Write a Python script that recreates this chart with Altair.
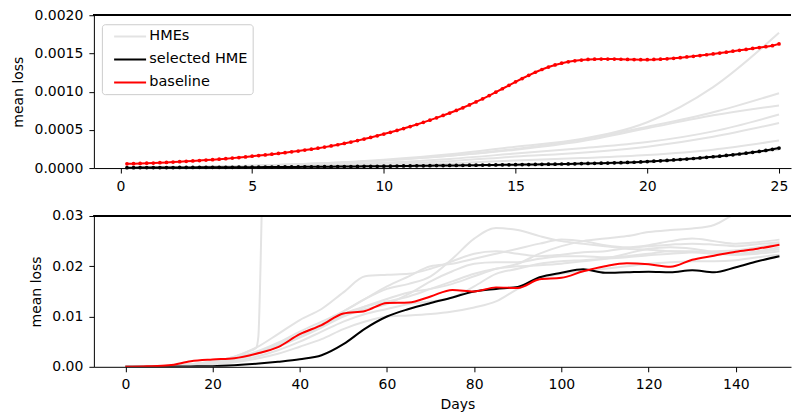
import altair as alt
import pandas as pd

FONT = "DejaVu Sans"
FS = 14
FS_LEG = 14.5
GREY = "#e3e3e3"

# ---------------- top panel data (values in units of 1e-4) ----------------
top_days = [round(0.25 * i, 2) for i in range(1, 101)]

top_baseline = [
    0.55, 0.57, 0.60, 0.63, 0.66, 0.70, 0.74, 0.78, 0.83, 0.88,
    0.93, 0.98, 1.04, 1.10, 1.16, 1.23, 1.30, 1.38, 1.46, 1.55,
    1.63, 1.72, 1.81, 1.91, 2.01, 2.12, 2.23, 2.35, 2.47, 2.60,
    2.74, 2.89, 3.05, 3.22, 3.40, 3.59, 3.79, 4.00, 4.22, 4.45,
    4.68, 4.92, 5.17, 5.43, 5.70, 5.98, 6.27, 6.57, 6.88, 7.20,
    7.54, 7.89, 8.26, 8.65, 9.06, 9.49, 9.93, 10.38, 10.83, 11.28,
    11.72, 12.14, 12.54, 12.90, 13.22, 13.49, 13.72, 13.90, 14.04, 14.14,
    14.21, 14.25, 14.27, 14.27, 14.26, 14.24, 14.22, 14.20, 14.19, 14.19,
    14.21, 14.25, 14.30, 14.37, 14.45, 14.54, 14.63, 14.73, 14.83, 14.93,
    15.05, 15.17, 15.29, 15.41, 15.53, 15.65, 15.77, 15.89, 16.01, 16.25,
]

top_selected = [
    0.05, 0.05, 0.06, 0.06, 0.06, 0.07, 0.07, 0.07, 0.08, 0.08,
    0.08, 0.09, 0.09, 0.09, 0.10, 0.10, 0.10, 0.11, 0.11, 0.12,
    0.12, 0.13, 0.13, 0.14, 0.14, 0.15, 0.15, 0.16, 0.16, 0.17,
    0.18, 0.18, 0.19, 0.20, 0.20, 0.21, 0.22, 0.23, 0.23, 0.24,
    0.25, 0.26, 0.27, 0.28, 0.29, 0.30, 0.31, 0.32, 0.33, 0.34,
    0.35, 0.36, 0.37, 0.38, 0.39, 0.40, 0.41, 0.42, 0.43, 0.44,
    0.45, 0.46, 0.47, 0.49, 0.50, 0.51, 0.53, 0.54, 0.56, 0.58,
    0.60, 0.62, 0.64, 0.66, 0.68, 0.70, 0.73, 0.76, 0.80, 0.85,
    0.90, 0.95, 1.00, 1.06, 1.12, 1.18, 1.25, 1.32, 1.40, 1.48,
    1.56, 1.65, 1.74, 1.84, 1.95, 2.06, 2.18, 2.31, 2.46, 2.62,
]

top_hme_days = [0.25, 2.5, 5, 7.5, 10, 12.5, 15, 17.5, 20, 22.5, 25]
top_hmes = [
    [0.0, 0.10, 0.30, 0.60, 1.10, 1.80, 2.80, 3.80, 6.00, 10.60, 17.70],
    [0.0, 0.10, 0.30, 0.60, 1.00, 1.60, 2.50, 3.70, 5.40, 7.30, 9.80],
    [0.0, 0.10, 0.30, 0.60, 1.00, 1.60, 2.40, 3.50, 5.20, 6.90, 8.20],
    [0.0, 0.10, 0.20, 0.40, 0.70, 1.20, 1.90, 2.60, 3.40, 4.80, 7.00],
    [0.0, 0.05, 0.15, 0.30, 0.55, 0.90, 1.50, 2.00, 2.80, 4.10, 5.90],
    [0.0, 0.05, 0.10, 0.20, 0.35, 0.60, 1.00, 1.30, 1.70, 2.40, 3.60],
    [0.0, 0.03, 0.06, 0.10, 0.15, 0.25, 0.35, 0.50, 0.80, 1.40, 2.40],
]

# ---------------- bottom panel data (values in units of 1e-3) ----------------
bot_days = [0, 5, 10, 15, 20, 25, 30, 35, 40, 45, 50, 55, 60, 65, 70, 75,
            80, 85, 90, 95, 100, 105, 110, 115, 120, 125, 130, 135, 140, 145, 150]

bot_baseline = [0.0, 0.1, 0.3, 1.1, 1.45, 1.7, 2.6, 3.9, 6.5, 8.3, 10.6, 11.1, 12.7, 12.8,
                14.0, 15.3, 15.0, 15.8, 15.7, 17.4, 17.7, 19.0, 20.0, 20.6, 20.4,
                19.9, 21.3, 22.1, 22.9, 23.5, 24.3]
bot_selected = [0.0, 0.02, 0.05, 0.08, 0.12, 0.3, 0.6, 1.0, 1.5, 2.3, 4.5, 7.6, 10.0, 11.5,
                12.7, 13.8, 15.0, 15.5, 15.9, 17.8, 18.7, 19.4, 18.7, 18.8, 18.9,
                18.8, 19.2, 18.8, 19.8, 21.0, 22.0]

bot_hmes = [
    [0, 0.05, 0.2, 0.5, 1.0, 2.0, 3.8, 6.5, 9.3, 11.5, 14.8, 18.0, 18.3, 18.5, 19.5, 21.0,
     22.5, 23.0, 22.5, 22.0, 22.3, 22.8, 23.0, 23.6, 24.0, 24.3, 24.5, 24.3, 24.0, 24.4, 24.8],
    [0, 0.05, 0.2, 0.45, 0.9, 1.6, 2.8, 4.5, 6.5, 8.5, 11.0, 13.5, 15.5, 16.5, 18.0, 21.5,
     25.5, 27.6, 27.2, 26.0, 25.0, 24.5, 24.0, 23.5, 23.3, 23.0, 22.8, 22.5, 22.3, 22.5, 23.0],
    [0, 0.03, 0.15, 0.4, 0.8, 1.4, 2.5, 4.0, 6.0, 8.0, 10.2, 12.0, 13.5, 14.8, 15.5, 16.5,
     18.0, 19.5, 20.5, 22.5, 24.0, 25.0, 25.5, 26.0, 26.8, 27.2, 27.5, 28.2, 30.5, 32.0, 33.0],
    [0, 0.05, 0.2, 0.5, 1.0, 1.8, 3.0, 4.8, 7.0, 9.0, 11.0, 13.5, 16.0, 18.0, 20.0, 20.5,
     21.5, 22.5, 23.5, 24.5, 25.3, 25.0, 24.2, 23.8, 24.2, 25.0, 25.5, 25.0, 24.5, 24.8, 25.3],
    [0, 0.05, 0.15, 0.4, 0.8, 1.5, 2.6, 4.0, 5.8, 7.8, 10.0, 11.5, 12.5, 14.5, 17.0, 19.0,
     20.5, 20.8, 20.8, 21.5, 22.0, 22.0, 21.8, 22.0, 22.5, 23.0, 23.0, 22.8, 22.5, 23.0, 23.8],
    [0, 0.03, 0.1, 0.3, 0.6, 1.1, 2.0, 3.3, 5.0, 7.0, 9.0, 10.5, 11.5, 12.5, 13.0, 13.8,
     16.0, 18.5, 19.5, 20.5, 21.0, 21.2, 21.5, 21.8, 22.2, 22.5, 22.8, 23.0, 23.2, 23.8, 24.5],
    [0, 0.02, 0.1, 0.25, 0.5, 0.9, 1.6, 2.6, 4.0, 5.5, 7.5, 9.0, 10.0, 10.2, 10.5, 11.0,
     11.8, 13.0, 15.5, 17.5, 18.5, 19.0, 19.5, 20.0, 20.5, 20.8, 21.0, 21.0, 21.2, 21.8, 22.3],
    [0, 0.04, 0.15, 0.4, 0.8, 1.5, 2.6, 4.2, 6.2, 8.2, 10.5, 12.0, 13.0, 14.0, 15.5, 17.0,
     18.5, 19.5, 20.0, 20.2, 20.5, 21.0, 21.5, 22.5, 23.5, 23.8, 23.5, 22.8, 22.3, 22.8, 23.4],
]
spike_days = [0, 5, 10, 15, 20, 25, 28, 30, 30.5, 31, 31.5]
spike_vals = [0, 0.05, 0.2, 0.5, 1.0, 2.0, 3.0, 3.8, 6.0, 20.0, 40.0]

SERIES = ["HMEs", "selected HME", "baseline"]
COLORS = [GREY, "black", "red"]

# ---------------- build tables ----------------
rows = []
for k, line in enumerate(top_hmes):
    for d, v in zip(top_hme_days, line):
        rows.append({"day": d, "loss": v * 1e-4, "series": "HMEs", "id": f"h{k}"})
top_grey = pd.DataFrame(rows)
top_sel = pd.DataFrame({"day": top_days, "loss": [v * 1e-4 for v in top_selected], "series": "selected HME"})
top_base = pd.DataFrame({"day": top_days, "loss": [v * 1e-4 for v in top_baseline], "series": "baseline"})

rows = []
for k, line in enumerate(bot_hmes):
    for d, v in zip(bot_days, line):
        rows.append({"day": d, "loss": v * 1e-3, "series": "HMEs", "id": f"h{k}"})
for d, v in zip(spike_days, spike_vals):
    rows.append({"day": d, "loss": v * 1e-3, "series": "HMEs", "id": "spike"})
bot_grey = pd.DataFrame(rows)
bot_sel = pd.DataFrame({"day": bot_days, "loss": [v * 1e-3 for v in bot_selected], "series": "selected HME"})
bot_base = pd.DataFrame({"day": bot_days, "loss": [v * 1e-3 for v in bot_baseline], "series": "baseline"})

W = 698
H_TOP = 153
H_BOT = 151

legend = alt.Legend(
    orient="none", legendX=8, legendY=9, title=None,
    symbolType="M-3.2,0H3.2", symbolSize=100, symbolStrokeWidth=2, symbolOffset=16,
    labelFontSize=FS_LEG, labelFont=FONT, labelColor="black", labelOffset=12,
    fillColor="white", strokeColor="#cccccc", cornerRadius=3, padding=5,
    rowPadding=8,
)


def panel(grey, sel, base, xdom, xticks, ydom, yticks, yfmt, xtitle, h, show_legend, dots):
    color_legend = legend if show_legend else None
    color = alt.Color("series:N", scale=alt.Scale(domain=SERIES, range=COLORS), legend=color_legend)
    xenc = alt.X("day:Q", scale=alt.Scale(domain=xdom, nice=False, zero=False),
                 axis=alt.Axis(values=xticks, title=xtitle, format="d", titleX=364 if xtitle else alt.Undefined))
    yenc = alt.Y("loss:Q", scale=alt.Scale(domain=ydom, nice=False),
                 axis=alt.Axis(values=yticks, format=yfmt, title="mean loss"))
    interp = "linear" if dots else "monotone"
    g = alt.Chart(grey).mark_line(strokeWidth=2, clip=True, interpolate="monotone").encode(
        x=xenc, y=yenc, color=color, detail="id:N")
    s = alt.Chart(sel).mark_line(strokeWidth=2, clip=True, interpolate=interp).encode(x=xenc, y=yenc, color=color)
    b = alt.Chart(base).mark_line(strokeWidth=2, clip=True, interpolate=interp).encode(x=xenc, y=yenc, color=color)
    layers = [g, s]
    if dots:
        layers.append(alt.Chart(sel).mark_circle(size=14, opacity=1, color="black").encode(x=xenc, y=yenc))
    layers.append(b)
    if dots:
        layers.append(alt.Chart(base).mark_circle(size=14, opacity=1, color="red").encode(x=xenc, y=yenc))
    top_spine = alt.Chart(base).mark_rule(color="black", strokeWidth=1).encode(
        x=alt.value(0), x2=alt.value(W), y=alt.value(0))
    layers.append(top_spine)
    return alt.layer(*layers).properties(width=W, height=h)


top = panel(top_grey, top_sel, top_base, [-1.005, 25.455], [0, 5, 10, 15, 20, 25],
            [0, 0.002], [0, 0.0005, 0.001, 0.0015, 0.002], ".4f", None, H_TOP, True, True)
bottom = panel(bot_grey, bot_sel, bot_base, [-7.215, 152.65], [0, 20, 40, 60, 80, 100, 120, 140],
               [0, 0.03], [0, 0.01, 0.02, 0.03], ".2f", "Days", H_BOT, False, False)

chart = alt.vconcat(top, bottom, spacing=16).resolve_scale(color="independent").properties(
    padding={"left": 4, "top": 0, "right": 0, "bottom": 0}
).configure_view(stroke=None).configure_axis(
    grid=False, domainColor="black", domainWidth=1, tickColor="black", tickSize=5, tickWidth=1,
    labelPadding=6, labelFont=FONT, labelFontSize=FS, labelColor="black",
    titleFont=FONT, titleFontSize=FS, titleFontWeight="normal", titleColor="black",
).configure_axisY(titlePadding=8).configure_axisX(titlePadding=6)

chart.save("out.html", embed_options={"renderer": "svg", "actions": False})
